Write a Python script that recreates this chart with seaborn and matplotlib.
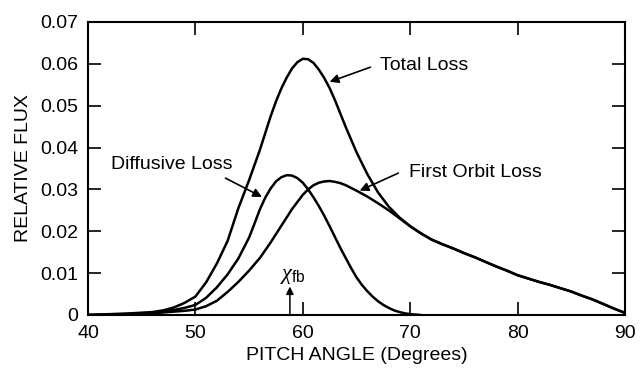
import numpy as np
import pandas as pd
import matplotlib
matplotlib.use("Agg")
import matplotlib.pyplot as plt
import seaborn as sns

# Pitch angle grid (degrees) and relative flux of each loss channel
pitch_total = [40, 42, 44, 46, 47, 48, 49, 50, 51, 52, 53, 54, 55, 56, 57, 57.5, 58, 58.5,
               59, 59.5, 60, 60.5, 61, 61.5, 62, 62.5, 63, 64, 65, 66, 67, 68, 69, 70, 71,
               72, 73, 74, 75, 76, 77, 78, 79, 80, 81, 82, 83, 84, 85, 86, 87, 88, 89, 90]
total_loss = [0.0, 0.0002, 0.0004, 0.0007, 0.0011, 0.0018, 0.0029, 0.0044, 0.0078, 0.0123,
              0.0177, 0.0255, 0.0322, 0.0394, 0.0474, 0.0510, 0.0541, 0.0567,
              0.0589, 0.0604, 0.0612, 0.0611, 0.0602, 0.0586, 0.0566, 0.0542, 0.0513,
              0.0449, 0.0389, 0.0337, 0.0293, 0.0259, 0.0233, 0.0212, 0.0195,
              0.0180, 0.0169, 0.0159, 0.0148, 0.0138, 0.0127, 0.0116, 0.0106, 0.0095,
              0.0087, 0.0079, 0.0072, 0.0064, 0.0056, 0.0046, 0.0037, 0.0026, 0.0015, 0.0005]

pitch_diffusive = [40, 42, 44, 46, 47, 48, 49, 50, 51, 52, 53, 54, 55, 55.5, 56, 56.5, 57,
                   57.5, 58, 58.5, 59, 59.5, 60, 60.5, 61, 61.5, 62, 62.5, 63, 63.5, 64,
                   64.5, 65, 65.5, 66, 66.5, 67, 67.5, 68, 68.5, 69, 69.5, 70, 71]
diffusive_loss = [0.0, 0.0001, 0.0002, 0.0005, 0.0008, 0.0012, 0.0017, 0.0024, 0.0041,
                  0.0066, 0.0097, 0.0135, 0.0185, 0.0218, 0.0252, 0.0280, 0.0302,
                  0.0319, 0.0329, 0.0334, 0.0333, 0.0327, 0.0316, 0.0300, 0.0281, 0.0260,
                  0.0237, 0.0212, 0.0186, 0.0160, 0.0136, 0.0112, 0.0090, 0.0072,
                  0.0057, 0.0044, 0.0033, 0.0024, 0.0017, 0.0011, 0.0007, 0.0004,
                  0.0002, 0.0]

pitch_orbit = [40, 42, 44, 46, 48, 49, 50, 51, 52, 53, 54, 55, 56, 57, 58, 59, 60, 60.5, 61,
               61.5, 62, 62.5, 63, 63.5, 64, 65, 66, 67, 68, 69, 70, 71, 72, 73, 74, 75,
               76, 77, 78, 79, 80, 81, 82, 83, 84, 85, 86, 87, 88, 89, 90]
first_orbit_loss = [0.0, 0.0001, 0.0002, 0.0004, 0.0008, 0.0010, 0.0013, 0.0021, 0.0034,
                    0.0055, 0.0079, 0.0106, 0.0136, 0.0173, 0.0213, 0.0253, 0.0287, 0.0300,
                    0.0310, 0.0316, 0.0319, 0.0320, 0.0318, 0.0315, 0.0310, 0.0297,
                    0.0283, 0.0267, 0.0250, 0.0231, 0.0212, 0.0195, 0.0180, 0.0169,
                    0.0159, 0.0148, 0.0138, 0.0127, 0.0116, 0.0106, 0.0095, 0.0087,
                    0.0079, 0.0072, 0.0064, 0.0056, 0.0046, 0.0037, 0.0026, 0.0015, 0.0005]

x_ticks = [40, 50, 60, 70, 80, 90]
y_ticks = [0, 0.01, 0.02, 0.03, 0.04, 0.05, 0.06, 0.07]
y_tick_labels = ["0", "0.01", "0.02", "0.03", "0.04", "0.05", "0.06", "0.07"]
chi_fb = 58.8

df = pd.concat([
    pd.DataFrame({"pitch": pitch_total, "flux": total_loss, "curve": "Total Loss"}),
    pd.DataFrame({"pitch": pitch_diffusive, "flux": diffusive_loss, "curve": "Diffusive Loss"}),
    pd.DataFrame({"pitch": pitch_orbit, "flux": first_orbit_loss, "curve": "First Orbit Loss"}),
], ignore_index=True)

sns.set_theme(style="ticks")
plt.rcParams["font.family"] = ["Liberation Sans", "DejaVu Sans"]
plt.rcParams["mathtext.fontset"] = "custom"
plt.rcParams["mathtext.rm"] = "Liberation Sans"
plt.rcParams["mathtext.it"] = "Liberation Serif:italic"
plt.rcParams["text.color"] = "black"
plt.rcParams["axes.labelcolor"] = "black"

fig, ax = plt.subplots(figsize=(6.4, 3.71), dpi=100)
fig.subplots_adjust(left=0.1375, right=0.9765, bottom=0.151, top=0.9408)

sns.lineplot(data=df, x="pitch", y="flux", hue="curve",
             palette={"Total Loss": "black", "Diffusive Loss": "black",
                      "First Orbit Loss": "black"},
             linewidth=1.8, legend=False, estimator=None, sort=True, ax=ax)

ax.set_xlim(40, 90)
ax.set_ylim(0, 0.07)
ax.set_xticks(x_ticks)
ax.set_yticks(y_ticks)
ax.set_yticklabels(y_tick_labels)
ax.set_axisbelow(False)
ax.tick_params(direction="in", length=9.5, width=1.2, labelsize=14, pad=7,
               top=True, right=True, colors="black")
for s in ax.spines.values():
    s.set_linewidth(1.5)
    s.set_color("black")

ax.set_xlabel("PITCH ANGLE (Degrees)", fontsize=14, labelpad=4)
ax.set_ylabel("RELATIVE FLUX", fontsize=14, labelpad=6)

arrow = dict(arrowstyle="-|>", color="black", lw=1.2, mutation_scale=13,
             shrinkA=0, shrinkB=0)

# curve labels with leader arrows
ax.text(67.2, 0.0595, "Total Loss", fontsize=14, va="center", ha="left")
ax.annotate("", xy=(62.5, 0.0557), xytext=(66.3, 0.0592), arrowprops=arrow)

ax.text(69.9, 0.0340, "First Orbit Loss", fontsize=14, va="center", ha="left")
ax.annotate("", xy=(65.3, 0.0297), xytext=(68.9, 0.0339), arrowprops=arrow)

ax.text(53.5, 0.0360, "Diffusive Loss", fontsize=14, va="center", ha="right")
ax.annotate("", xy=(56.2, 0.0282), xytext=(52.8, 0.0327), arrowprops=arrow)

# marker for the feedback pitch angle
ax.annotate("", xy=(chi_fb, 0.0068), xytext=(chi_fb, 0.0),
            arrowprops=dict(arrowstyle="-|>", color="black", lw=1.1,
                            mutation_scale=11, shrinkA=0, shrinkB=0))
ax.text(chi_fb + 0.3, 0.0095, r"$\chi_{\mathrm{fb}}$", fontsize=16,
        ha="center", va="center")

fig.savefig("out.png", dpi=100)
